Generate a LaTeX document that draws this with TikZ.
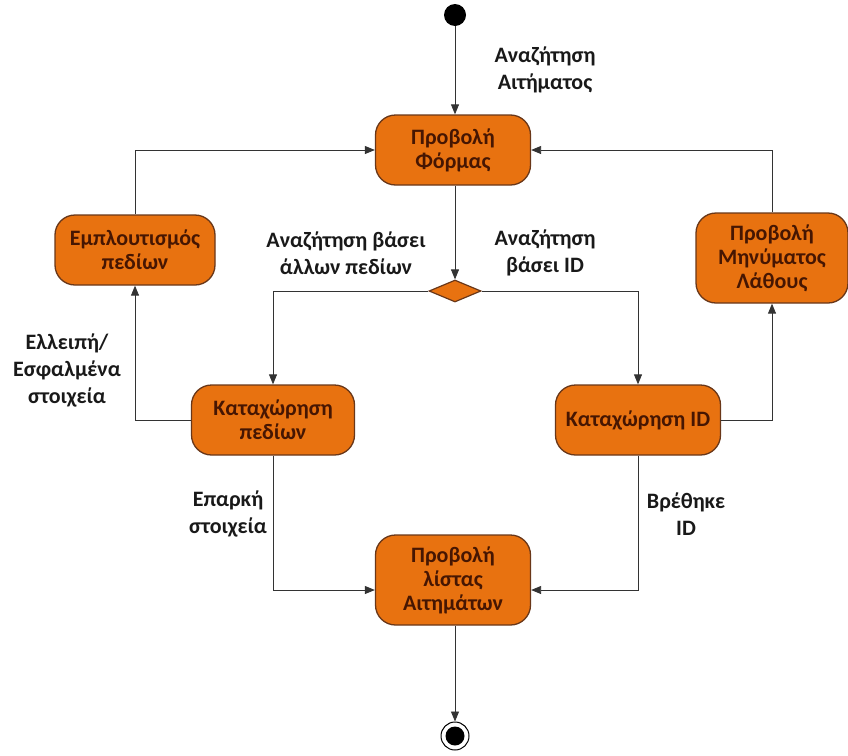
\documentclass[tikz,border=0pt]{standalone}
\usepackage{fontspec}
\setmainfont{Carlito}
\usetikzlibrary{arrows.meta,shapes.geometric}
\definecolor{actfill}{RGB}{232,114,16}
\definecolor{actborder}{RGB}{105,55,25}
\definecolor{acttext}{RGB}{70,22,2}
\definecolor{labeltext}{RGB}{25,25,25}
\begin{document}
\begin{tikzpicture}[x=1pt,y=-1pt,
  activity/.style={draw=actborder,line width=1.3pt,fill=actfill,rounded corners=20pt,
    align=center,inner sep=0pt,text=acttext,
    font=\bfseries\fontsize{22}{24}\selectfont},
  decision/.style={diamond,draw=actborder,line width=1.2pt,fill=actfill,inner sep=0pt,
    minimum width=52pt,minimum height=22pt},
  flow/.style={line width=0.9pt,draw=black!80,-{Triangle[length=10pt,width=8pt]}},
  guard/.style={align=center,text=labeltext,font=\bfseries\fontsize{22}{27}\selectfont}]
\useasboundingbox (0,0) rectangle (848,755);

% initial and final states
\node (start) [circle,fill=black,minimum size=22pt,inner sep=0pt] at (455,15) {};
\node (stop) [circle,draw=black,line width=1pt,minimum size=28pt,inner sep=0pt] at (455,736) {};
\node (stopdot) [circle,fill=black,minimum size=19pt,inner sep=0pt] at (455,736) {};

% activities
\node (form) [activity,minimum width=155pt,minimum height=70pt] at (453,150) {Προβολή\\Φόρμας};
\node (enrich) [activity,minimum width=160pt,minimum height=70pt] at (135,250) {Εμπλουτισμός\\πεδίων};
\node (error) [activity,minimum width=152pt,minimum height=90pt] at (772,258) {Προβολή\\Μηνύματος\\Λάθους};
\node (fields) [activity,minimum width=163pt,minimum height=70pt] at (273,420) {Καταχώρηση\\πεδίων};
\node (idin) [activity,minimum width=165pt,minimum height=70pt] at (638,420) {Καταχώρηση ID};
\node (list) [activity,minimum width=155pt,minimum height=90pt] at (453,580) {Προβολή\\λίστας\\Αιτημάτων};

% decision
\node (choice) [decision] at (455,291) {};

% transitions
\draw[flow] (start) -- (start |- form.north);
\draw[flow] (form.south -| choice) -- (choice.north);
\draw[flow] (choice.west) -| (fields.north);
\draw[flow] (choice.east) -| (idin.north);
\draw[flow] (fields.west) -| (enrich.south);
\draw[flow] (enrich.north) |- (form.west);
\draw[flow] (idin.east) -| (error.south);
\draw[flow] (error.north) |- (form.east);
\draw[flow] (fields.south) |- ([yshift=-10pt]list.west);
\draw[flow] (idin.south) |- ([yshift=-10pt]list.east);
\draw[flow] (list.south -| stop) -- (stop.north);

% guards
\node (g1) [guard] at (545,70) {Αναζήτηση\\Αιτήματος};
\node (g2) [guard] at (346,253) {Αναζήτηση βάσει\\άλλων πεδίων};
\node (g3) [guard] at (545,253) {Αναζήτηση\\βάσει ID};
\node (g4) [guard] at (67,370) {Ελλειπή/\\Εσφαλμένα\\στοιχεία};
\node (g5) [guard] at (228,514) {Επαρκή\\στοιχεία};
\node (g6) [guard] at (686,514) {Βρέθηκε\\ID};
\end{tikzpicture}
\end{document}
